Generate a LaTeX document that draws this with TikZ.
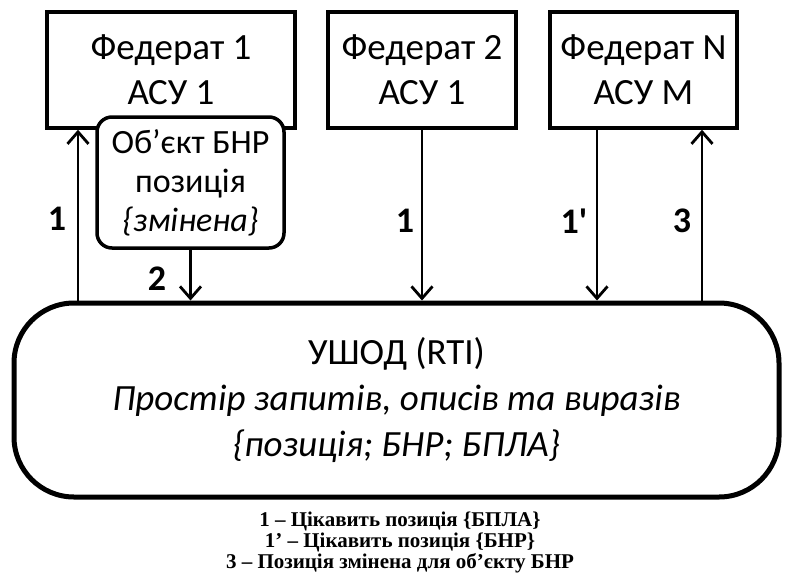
\documentclass[tikz,border=0pt]{standalone}
\usepackage{fontspec}
\setmainfont{Carlito}
\newfontfamily\numfont{Carlito}
\newfontfamily\legendfont{Liberation Serif}
\usetikzlibrary{arrows.meta}
\tikzset{every picture/.style={x=1pt,y=-1pt}}
\tikzset{
  fedbox/.style={draw,line width=3.5pt,inner sep=0pt,align=center,
    minimum height=116pt,font=\fontsize{37}{45}\selectfont},
  objbox/.style={draw,fill=white,line width=3.5pt,rounded corners=15pt,inner sep=0pt,
    align=center,minimum width=187pt,minimum height=131pt,font=\fontsize{34}{39}\selectfont},
  rtibox/.style={draw,line width=5pt,rounded corners=60pt,inner sep=0pt,align=center,
    minimum width=765pt,minimum height=194pt,font=\fontsize{37}{46}\selectfont},
  flow/.style={line width=2.8pt,-{Straight Barb[length=12pt,width=21pt]}},
  numlabel/.style={font=\numfont\bfseries\fontsize{36}{36}\selectfont},
}

\begin{document}
\begin{tikzpicture}
  \useasboundingbox (0,0) rectangle (785,576);

  % federates
  \node[fedbox,minimum width=248pt] (f1) at (171,70) {Федерат 1\\АСУ 1};
  \node[fedbox,minimum width=188pt] (f2) at (422,70) {Федерат 2\\АСУ 1};
  \node[fedbox,minimum width=187pt] (fn) at (643.5,70) {Федерат N\\АСУ M};

  % RTI
  \node[rtibox] (rti) at (396.5,400)
    {УШОД (RTI)\\{\itshape Простір запитів, описів та виразів}\\{\itshape\{позиція; БНР; БПЛА\}}};

  % object over federate 1
  \node[objbox] (obj) at (190.5,182.5) {Об’єкт БНР\\позиція\\{\itshape\{змінена\}}};

  \coordinate (p1) at (78,0);
  \coordinate (p1n) at (597,0);
  \coordinate (p3) at (702,0);

  \draw[flow] (rti.north -| p1) -- (f1.south -| p1);
  \draw[flow] (obj.south) -- (rti.north -| obj.south);
  \draw[flow] (f2.south) -- (rti.north -| f2.south);
  \draw[flow] (fn.south -| p1n) -- (rti.north -| p1n);
  \draw[flow] (rti.north -| p3) -- (fn.south -| p3);

  \node[numlabel] (l1) at (57,219) {1};
  \node[numlabel] (l2) at (157,279) {2};
  \node[numlabel] (l1b) at (405,221) {1};
  \node[numlabel] (l1p) at (574,221) {1'};
  \node[numlabel] (l3) at (682,221) {3};

  % legend
  \node[align=center,font=\legendfont\bfseries\fontsize{21}{21}\selectfont] (legend) at (400,542)
    {1 – Цікавить позиція \{БПЛА\}\\1’ – Цікавить позиція \{БНР\}\\3 – Позиція змінена для об’єкту БНР};
\end{tikzpicture}
\end{document}
